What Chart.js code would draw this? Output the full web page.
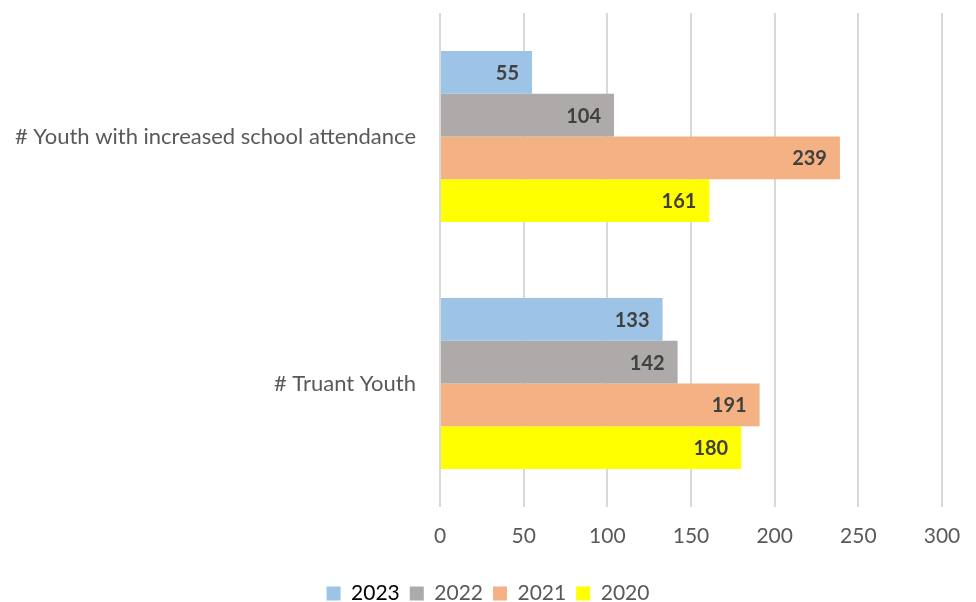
<!DOCTYPE html>
<html>
<head>
<meta charset="utf-8">
<script src="https://cdn.jsdelivr.net/npm/chart.js@4"></script>
<style>
  html, body { margin: 0; padding: 0; background: #ffffff; }
  #wrap { width: 976px; height: 602px; }
</style>
</head>
<body>
<div id="wrap"><canvas id="chart" width="976" height="602"></canvas></div>
<script>
const categories = ['# Youth with increased school attendance', '# Truant Youth'];
const years = ['2023', '2022', '2021', '2020'];
const values2023 = [55, 133];
const values2022 = [104, 142];
const values2021 = [239, 191];
const values2020 = [161, 180];
const xTicks = [0, 50, 100, 150, 200, 250, 300];

const colors = ['#9DC3E6', '#AEAAAA', '#F4B183', '#FFFF00'];
const seriesValues = [values2023, values2022, values2021, values2020];
const FONT = 'Lato, "Open Sans", sans-serif';

// Writes each bar's value inside its right end
const barValueLabels = {
  id: 'barValueLabels',
  afterDatasetsDraw(chart) {
    const ctx = chart.ctx;
    ctx.save();
    ctx.font = 'bold 20px ' + FONT;
    ctx.fillStyle = '#404040';
    ctx.textAlign = 'right';
    ctx.textBaseline = 'middle';
    chart.data.datasets.forEach((ds, i) => {
      chart.getDatasetMeta(i).data.forEach((bar, j) => {
        ctx.fillText(String(ds.data[j]), bar.x - 13, bar.y + 1);
      });
    });
    ctx.restore();
  }
};

new Chart(document.getElementById('chart'), {
  type: 'bar',
  data: {
    labels: categories,
    datasets: years.map((y, i) => ({
      label: y,
      data: seriesValues[i],
      backgroundColor: colors[i],
      borderWidth: 0,
      categoryPercentage: 0.693,
      barPercentage: 1.0
    }))
  },
  options: {
    indexAxis: 'y',
    responsive: false,
    animation: false,
    layout: { padding: { left: 0, right: 0, top: 13, bottom: -12 } },
    scales: {
      x: {
        min: 0,
        max: 300,
        afterBuildTicks(scale) { scale.ticks = xTicks.map(v => ({ value: v })); },
        grid: { color: '#D9D9D9', lineWidth: 2, drawTicks: false },
        border: { display: false },
        ticks: {
          padding: 17,
          color: '#595959',
          font: { family: FONT, size: 21 }
        },
        afterFit(scale) {
          scale.height = 66;
          scale.paddingLeft = 0;
          scale.paddingRight = 34;
        }
      },
      y: {
        grid: { display: false },
        border: { display: false },
        ticks: {
          padding: 16,
          color: '#595959',
          font: { family: FONT, size: 22 }
        },
        afterFit(scale) {
          scale.width = 440;
          scale.paddingTop = 0;
          scale.paddingBottom = 0;
        }
      }
    },
    plugins: {
      tooltip: { enabled: false },
      legend: {
        position: 'bottom',
        labels: {
          boxWidth: 14,
          boxHeight: 14,
          padding: 10,
          font: { family: FONT, size: 21 },
          generateLabels(chart) {
            return chart.data.datasets.map((ds, i) => ({
              text: ds.label,
              fillStyle: ds.backgroundColor,
              strokeStyle: ds.backgroundColor,
              lineWidth: 0,
              hidden: false,
              datasetIndex: i,
              fontColor: i === 0 ? '#000000' : '#595959'
            }));
          }
        }
      }
    }
  },
  plugins: [barValueLabels]
});
</script>
</body>
</html>
